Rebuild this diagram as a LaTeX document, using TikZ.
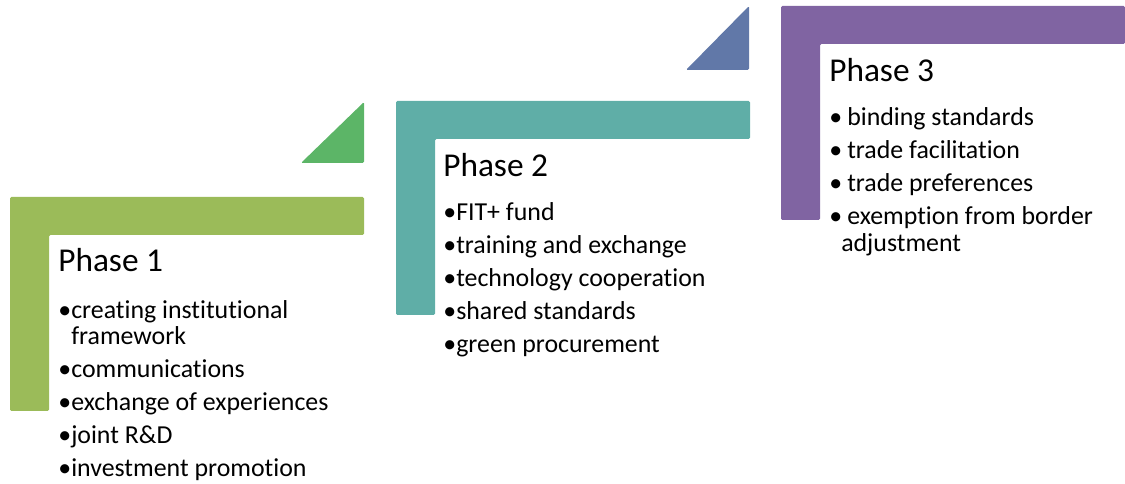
\documentclass[tikz,border=0pt]{standalone}
\usepackage{fontspec}
\setmainfont{Carlito}[Ligatures=NoCommon]
\usetikzlibrary{positioning}
\definecolor{phaseone}{HTML}{9BBB59}
\definecolor{phasetwo}{HTML}{5FAEA7}
\definecolor{phasethree}{HTML}{8064A2}
\definecolor{stepone}{HTML}{5CB567}
\definecolor{steptwo}{HTML}{6178A8}
\newcommand{\bitem}[2][9.75pt]{\makebox[#1][l]{\textbullet}#2}
\newcommand{\bcont}[2][9.75pt]{\hspace*{#1}#2}

\begin{document}
\begin{tikzpicture}[x=0.75pt,y=-0.75pt,
    stepbar/.style={fill=#1, rounded corners=1pt},
    phase/.style={anchor=base west, inner sep=0pt, font=\fontsize{25}{30}\selectfont},
    items/.style={anchor=base west, inner sep=0pt, align=left, font=\fontsize{19.4}{20.25}\selectfont}]
    \useasboundingbox (0,0) rectangle (1125,484);

    % the three steps
    \foreach \x/\y/\c in {10/197/phaseone, 396/101/phasetwo, 781/6/phasethree}
        \fill[stepbar=\c] (\x,\y) -- ({min(\x+354,1125)},\y) -- ({min(\x+354,1125)},\y+38)
            -- (\x+39,\y+38) -- (\x+39,\y+214) -- (\x,\y+214) -- cycle;

    % arrow tips between the steps
    \fill[stepbar=stepone] (301,163) -- (364,102) -- (364,163) -- cycle;
    \fill[stepbar=steptwo] (686,70) -- (749,6) -- (749,70) -- cycle;

    \node[phase] (p1) at (58,272) {Phase 1};
    \node[phase] (p2) at (443,177) {Phase 2};
    \node[phase] (p3) at (829,82) {Phase 3};

    % lists sit on the baseline of their last line
    \node[items] (l1) at (58,477) {\bitem{creating institutional}\\
        \bcont{framework}\\[4.5pt]
        \bitem{communications}\\[4.5pt]
        \bitem{exchange of experiences}\\[4.5pt]
        \bitem{joint R\&D}\\[4.5pt]
        \bitem{investment promotion}};
    \node[items] (l2) at (443,353) {\bitem{FIT+ fund}\\[4.5pt]
        \bitem{training and exchange}\\[4.5pt]
        \bitem{technology cooperation}\\[4.5pt]
        \bitem{shared standards}\\[4.5pt]
        \bitem{green procurement}};
    \node[items] (l3) at (829,252) {\bitem[13.5pt]{binding standards}\\[4.5pt]
        \bitem[13.5pt]{trade facilitation}\\[4.5pt]
        \bitem[13.5pt]{trade preferences}\\[4.5pt]
        \bitem[13.5pt]{exemption from border}\\
        \bcont[9pt]{adjustment}};
\end{tikzpicture}
\end{document}
